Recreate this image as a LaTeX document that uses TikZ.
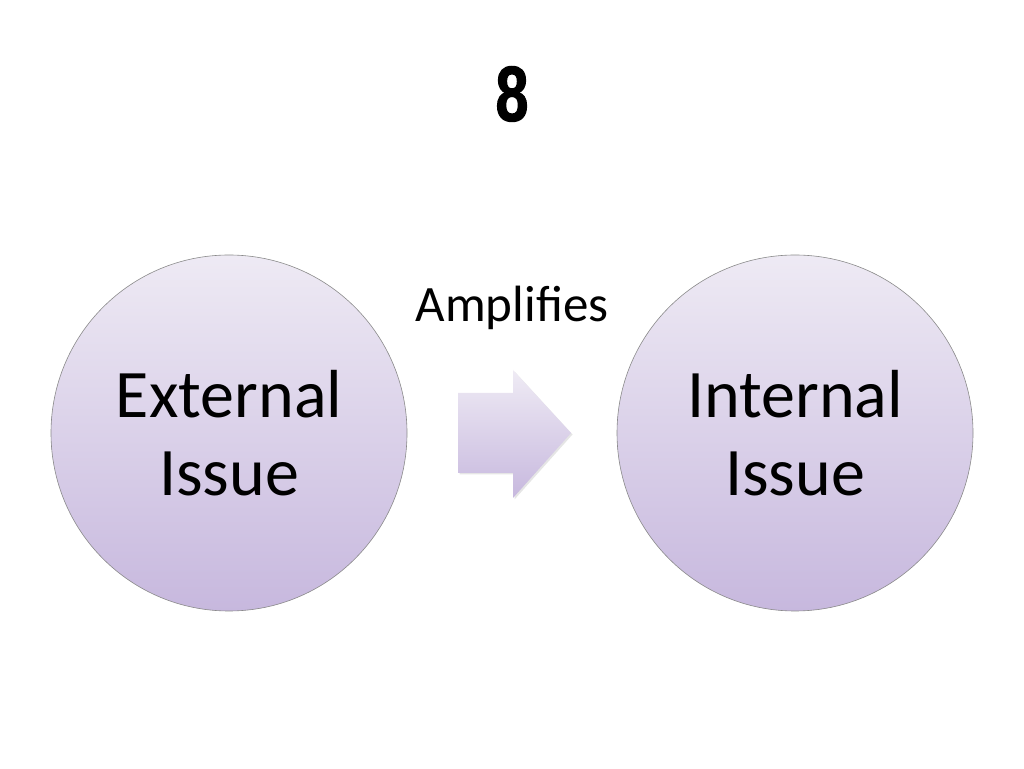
\documentclass[tikz,border=0pt]{standalone}
\usepackage{fontspec}
\usepackage{graphicx}
\setmainfont{Carlito}
\newfontfamily\titlefont[FakeBold=1.6]{Liberation Sans Bold}
\usetikzlibrary{shadows}
\definecolor{lavtop}{HTML}{EEEAF4}
\definecolor{lavbot}{HTML}{C7B8DE}
\definecolor{rimgray}{HTML}{8A8A8A}
\tikzset{
  issue/.style={circle, draw=rimgray, line width=0.6pt, top color=lavtop, bottom color=lavbot,
    minimum size=356pt, inner sep=0pt, align=center, font=\fontsize{68}{78}\selectfont},
  arrowshape/.style={top color=lavtop!95!white, bottom color=lavbot, draw=none,
    drop shadow={shadow xshift=1.5pt, shadow yshift=-1.5pt, opacity=0.2}},
}
\begin{document}
\begin{tikzpicture}[x=1pt,y=1pt]
\useasboundingbox[fill=white] (0,0) rectangle (1024,768);
\node (title) at (512,674) {\titlefont\fontsize{78}{84}\selectfont\scalebox{0.76}[1]{8}};
\node[issue] (ext) at (229,335) {External\\Issue};
\node[issue] (int) at (795,335) {Internal\\Issue};
\node[anchor=base, font=\fontsize{51}{56}\selectfont] (amp) at (512,446) {Amplifies};
\path[arrowshape] (458,375) -- (513,375) -- (513,398) -- (571,335) -- (513,270) -- (513,295) -- (458,295) -- cycle;
\end{tikzpicture}
\end{document}
